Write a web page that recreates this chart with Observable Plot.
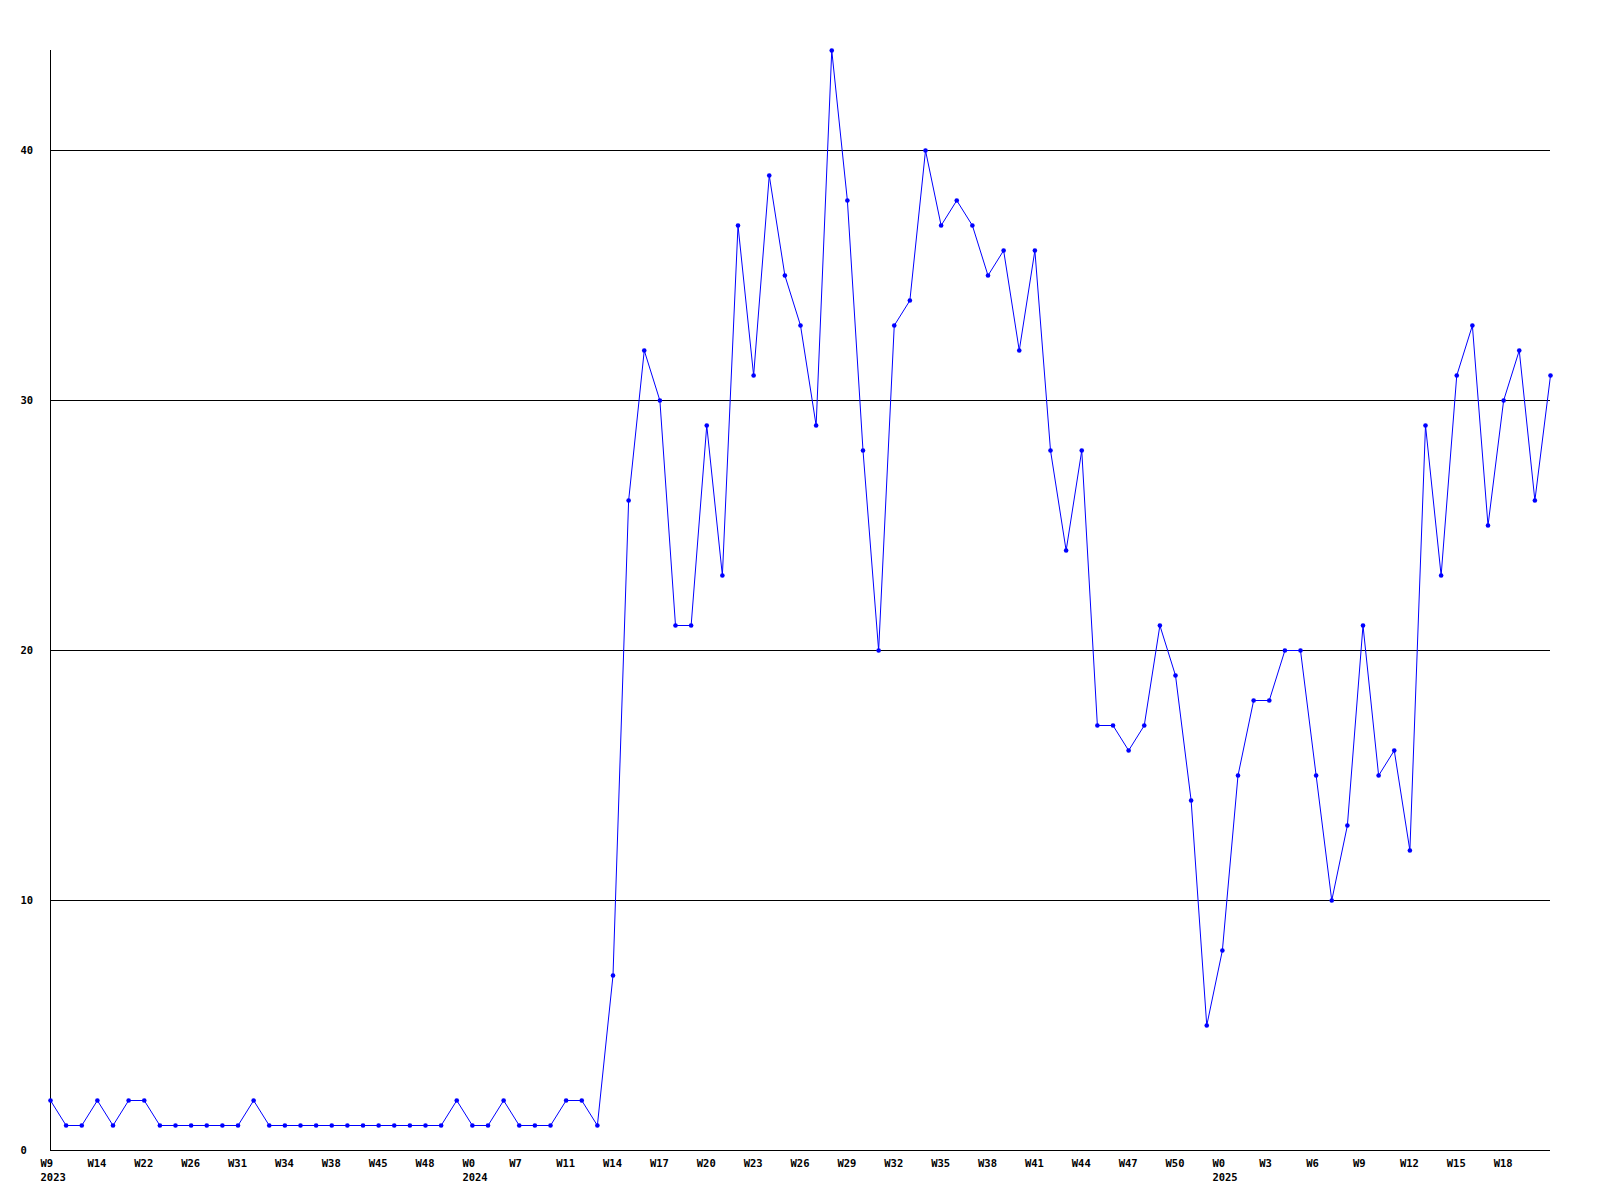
<!DOCTYPE html>
<html>
<head>
<meta charset="utf-8">
<script src="https://cdn.jsdelivr.net/npm/d3@7"></script>
<script src="https://cdn.jsdelivr.net/npm/@observablehq/plot@0.6"></script>
<style>
  html, body { margin: 0; padding: 0; background: #ffffff; }
  #chart svg { display: block; }
</style>
</head>
<body>
<div id="chart"></div>
<script>
// Weekly counts, one per point (97 consecutive points)
const values = [
  2, 1, 1, 2, 1, 2, 2, 1, 1, 1,
  1, 1, 1, 2, 1, 1, 1, 1, 1, 1,
  1, 1, 1, 1, 1, 1, 2, 1, 1, 2,
  1, 1, 1, 2, 2, 1, 7, 26, 32, 30,
  21, 21, 29, 23, 37, 31, 39, 35, 33, 29,
  44, 38, 28, 20, 33, 34, 40, 37, 38, 37,
  35, 36, 32, 36, 28, 24, 28, 17, 17, 16,
  17, 21, 19, 14, 5, 8, 15, 18, 18, 20,
  20, 15, 10, 13, 21, 15, 16, 12, 29, 23,
  31, 33, 25, 30, 32, 26, 31
];

// X tick labels (every third point)
const tickIndex = [0, 3, 6, 9, 12, 15, 18, 21, 24, 27, 30, 33, 36, 39, 42, 45, 48, 51, 54, 57, 60, 63, 66, 69, 72, 75, 78, 81, 84, 87, 90, 93];
const tickWeek = ["W9", "W14", "W22", "W26", "W31", "W34", "W38", "W45", "W48", "W0", "W7", "W11", "W14", "W17", "W20", "W23", "W26", "W29", "W32", "W35", "W38", "W41", "W44", "W47", "W50", "W0", "W3", "W6", "W9", "W12", "W15", "W18"];
const tickYear = ["2023", "", "", "", "", "", "", "", "", "2024", "", "", "", "", "", "", "", "", "", "", "", "", "", "", "", "2025", "", "", "", "", "", ""];

// Y gridlines / ticks
const yTicks = [0, 10, 20, 30, 40];
const gridValues = [10, 20, 30, 40];

const points = values.map((v, i) => ({i, v}));
const ticks = tickIndex.map((i, k) => ({i, label: tickYear[k] ? tickWeek[k] + "\n" + tickYear[k] : tickWeek[k]}));

const font = "'DejaVu Sans Mono', monospace";

const chart = Plot.plot({
  width: 1600,
  height: 1200,
  marginLeft: 50,
  marginRight: 50,
  marginTop: 50,
  marginBottom: 50,
  style: {background: "#ffffff", fontFamily: font, fontSize: "10.5px", fontWeight: "bold", color: "#000"},
  x: {domain: [0, values.length - 1], axis: null},
  y: {domain: [0, 44], axis: null},
  marks: [
    Plot.ruleY(gridValues, {x1: 0, x2: values.length - 1, stroke: "#000", strokeWidth: 1}),
    Plot.ruleY([0], {x1: 0, x2: values.length - 1, stroke: "#000", strokeWidth: 1}),
    Plot.ruleX([0], {y1: 0, y2: 44, stroke: "#000", strokeWidth: 1}),
    Plot.axisY(yTicks, {anchor: "left", label: null, tickSize: 0, tickPadding: 30, textAnchor: "start", fontWeight: "bold", fill: "#000"}),
    Plot.text(ticks, {x: "i", y: 0, text: "label", textAnchor: "start", lineAnchor: "top", dx: -10, dy: 6, lineHeight: 1.35, fill: "#000", fontWeight: "bold"}),
    Plot.line(points, {x: "i", y: "v", stroke: "#0000ff", strokeWidth: 1}),
    Plot.dot(points, {x: "i", y: "v", r: 2.3, fill: "#0000ff", stroke: "none"})
  ]
});

document.getElementById("chart").appendChild(chart);
</script>
</body>
</html>
